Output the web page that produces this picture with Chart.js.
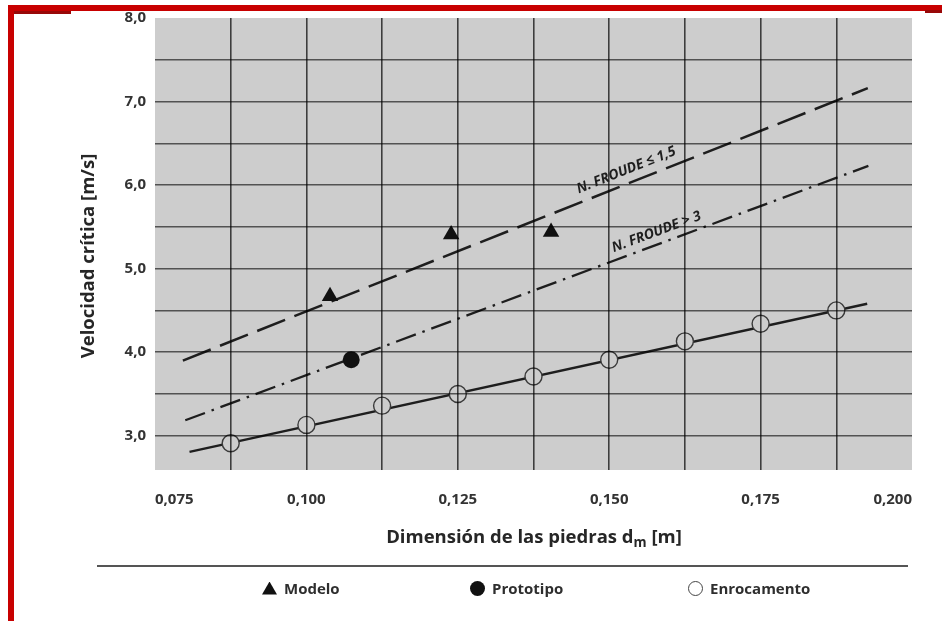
<!DOCTYPE html>
<html>
<head>
<meta charset="utf-8">
<title>Velocidad crítica vs dimensión de las piedras</title>
<script src="https://cdn.jsdelivr.net/npm/chart.js@4.4.1/dist/chart.umd.min.js"></script>
<style>
  html, body { margin: 0; padding: 0; background: #fff; }
  #page { position: relative; width: 942px; height: 621px; overflow: hidden;
          font-family: "Open Sans", "DejaVu Sans", sans-serif; color: #262626; }
  #chart { position: absolute; left: 0; top: 0; }
  .bar { position: absolute; background: #c80000; }
  .bar.dark { background: #980808; }
  .axis-title { position: absolute; font-weight: 700; font-size: 18.5px; line-height: 24px;
                text-align: center; white-space: nowrap; color: #262626; }
  .axis-title sub { font-size: 0.72em; vertical-align: -0.28em; line-height: 0; }
  #ytitle { left: -43px; top: 244px; width: 260px; transform: rotate(-90deg); }
  #xtitle { left: 334px; top: 524px; width: 400px; }
  #rule { position: absolute; left: 97px; top: 565px; width: 811px; height: 1.6px; background: #555; }
  .legend-item { position: absolute; top: 577px; height: 22px; display: flex; align-items: center;
                 font-weight: 700; font-size: 15px; color: #2e2e2e; white-space: nowrap; }
  .mk { display: inline-block; margin-right: 7px; }
  .mk.tri { width: 15px; height: 13px; background: #111; clip-path: polygon(50% 0, 100% 100%, 0 100%); }
  .mk.dot { width: 15px; height: 15px; border-radius: 50%; background: #111; }
  .mk.ring { width: 13px; height: 13px; border-radius: 50%; border: 1.4px solid #444; background: #fff; }
</style>
</head>
<body>
<div id="page">
  <canvas id="chart" width="942" height="621"></canvas>

  <div class="bar" style="left:8px; top:5px; width:934px; height:6px;"></div>
  <div class="bar" style="left:8px; top:5px; width:5.5px; height:616px;"></div>
  <div class="bar dark" style="left:13.5px; top:11px; width:57px; height:3px;"></div>
  <div class="bar dark" style="left:925px; top:10px; width:17px; height:3px;"></div>

  <div id="ytitle" class="axis-title">Velocidad crítica [m/s]</div>
  <div id="xtitle" class="axis-title">Dimensión de las piedras d<sub>m</sub> [m]</div>
  <div id="rule"></div>
  <div id="legend"></div>
</div>

<script>
// Diámetro medio de las piedras d_m [m] y velocidad crítica [m/s]
const modeloX      = [0.1039, 0.1239, 0.1404];
const modeloY      = [4.67, 5.41, 5.44];
const prototipoX   = [0.1074];
const prototipoY   = [3.91];
const enrocX       = [0.0875, 0.1000, 0.1125, 0.1250, 0.1375, 0.1500, 0.1625, 0.1750, 0.1875];
const enrocY       = [2.91, 3.13, 3.36, 3.50, 3.71, 3.91, 4.13, 4.34, 4.50];

// Rectas de ajuste (extremos)
const froude15X    = [0.0796, 0.1927];
const froude15Y    = [3.90, 7.16];
const froude3X     = [0.0800, 0.1928];
const froude3Y     = [3.185, 6.23];
const enrocLineX   = [0.0807, 0.1926];
const enrocLineY   = [2.807, 4.58];

// Ejes
const xMin = 0.075, xMax = 0.200, xGridStep = 0.0125;
const xTickValues  = [0.075, 0.100, 0.125, 0.150, 0.175, 0.200];
const xTickLabels  = ['0,075', '0,100', '0,125', '0,150', '0,175', '0,200'];
const yMin = 2.59, yMax = 8.0, yGridStep = 0.5;
const yTickValues  = [3, 4, 5, 6, 7, 8];
const yTickLabels  = ['3,0', '4,0', '5,0', '6,0', '7,0', '8,0'];

// Rótulos sobre las rectas
const lineLabelText = ['N. FROUDE ≤ 1,5', 'N. FROUDE > 3'];
const lineLabelAtX  = [0.1536, 0.1585];

const pts = (xs, ys) => xs.map((x, i) => ({ x, y: ys[i] }));
const near = (a, b) => Math.abs(a - b) < 1e-6;
const PLOT_BG = '#cdcdcd';

const plotBackground = {
  id: 'plotBackground',
  beforeDraw(chart) {
    const { ctx, chartArea: a } = chart;
    ctx.save();
    ctx.fillStyle = PLOT_BG;
    ctx.fillRect(a.left, a.top, a.right - a.left, a.bottom - a.top);
    ctx.restore();
  }
};

// Texto inclinado a lo largo de cada recta de Froude
const lineLabels = {
  id: 'lineLabels',
  afterDraw(chart, args, opts) {
    const { ctx } = chart;
    const xs = chart.scales.x, ys = chart.scales.y;
    opts.items.forEach(item => {
      const d = chart.data.datasets[item.dataset].data;
      const p0 = d[0], p1 = d[d.length - 1];
      const ang = Math.atan2(ys.getPixelForValue(p1.y) - ys.getPixelForValue(p0.y),
                             xs.getPixelForValue(p1.x) - xs.getPixelForValue(p0.x));
      const t = (item.x - p0.x) / (p1.x - p0.x);
      const yv = p0.y + t * (p1.y - p0.y);
      ctx.save();
      ctx.translate(xs.getPixelForValue(item.x), ys.getPixelForValue(yv));
      ctx.rotate(ang);
      ctx.font = 'italic 700 14px "Open Sans", "DejaVu Sans", sans-serif';
      ctx.fillStyle = '#1e1e1e';
      ctx.textAlign = 'center';
      ctx.textBaseline = 'middle';
      ctx.fillText(item.text, 0, -item.offset);
      ctx.restore();
    });
  }
};

const tickFont = { family: '"Open Sans", "DejaVu Sans", sans-serif', size: 15, weight: '700' };

new Chart(document.getElementById('chart'), {
  type: 'scatter',
  data: {
    datasets: [
      { label: 'Modelo', data: pts(modeloX, modeloY), order: 0,
        pointStyle: 'triangle', pointRadius: 9.5, backgroundColor: '#111', borderWidth: 0 },
      { label: 'Prototipo', data: pts(prototipoX, prototipoY), order: 0,
        pointStyle: 'circle', pointRadius: 8.5, backgroundColor: '#111', borderWidth: 0 },
      { label: 'Enrocamento', data: pts(enrocX, enrocY), order: 0,
        pointStyle: 'circle', pointRadius: 8.5, backgroundColor: PLOT_BG,
        borderColor: '#3a3a3a', borderWidth: 1.4 },
      { label: 'N. Froude ≤ 1,5', data: pts(froude15X, froude15Y), order: 1, showLine: true,
        pointRadius: 0, borderColor: '#1e1e1e', borderWidth: 2.5, borderDash: [30, 10] },
      { label: 'N. Froude > 3', data: pts(froude3X, froude3Y), order: 1, showLine: true,
        pointRadius: 0, borderColor: '#1e1e1e', borderWidth: 2.3, borderDash: [21, 7, 2.5, 7] },
      { label: 'Enrocamento (recta)', data: pts(enrocLineX, enrocLineY), order: 1, showLine: true,
        pointRadius: 0, borderColor: '#1e1e1e', borderWidth: 2.4 }
    ]
  },
  options: {
    responsive: false,
    animation: false,
    events: [],
    devicePixelRatio: 1,
    layout: { padding: { left: 0, right: 30, top: 17, bottom: 101 } },
    plugins: {
      legend: { display: false },
      tooltip: { enabled: false },
      lineLabels: {
        items: [
          { dataset: 3, text: lineLabelText[0], x: lineLabelAtX[0], offset: 13 },
          { dataset: 4, text: lineLabelText[1], x: lineLabelAtX[1], offset: 12 }
        ]
      }
    },
    scales: {
      x: {
        type: 'linear', min: xMin, max: xMax,
        afterFit: s => { s.height = 50; },
        border: { display: false },
        grid: {
          z: 1, drawTicks: false, lineWidth: 1.6,
          color: c => (near(c.tick.value, xMin) || near(c.tick.value, xMax)) ? 'rgba(0,0,0,0)' : 'rgba(0,0,0,0.7)'
        },
        ticks: {
          stepSize: xGridStep, autoSkip: false, maxRotation: 0, align: 'inner', padding: 21,
          color: '#333', font: tickFont,
          callback: v => { const i = xTickValues.findIndex(t => near(t, v)); return i >= 0 ? xTickLabels[i] : ''; }
        }
      },
      y: {
        type: 'linear', min: yMin, max: yMax,
        afterFit: s => { s.width = 155; },
        border: { display: false },
        grid: {
          z: 1, drawTicks: false, lineWidth: 1.6,
          color: c => (near(c.tick.value, yMin) || near(c.tick.value, yMax)) ? 'rgba(0,0,0,0)' : 'rgba(0,0,0,0.6)'
        },
        ticks: {
          stepSize: yGridStep, autoSkip: false, padding: 9,
          color: '#333', font: tickFont,
          callback: v => { const i = yTickValues.findIndex(t => near(t, v)); return i >= 0 ? yTickLabels[i] : ''; }
        }
      }
    }
  },
  plugins: [plotBackground, lineLabels]
});

// Leyenda
const legendItems = [
  { text: 'Modelo',      marker: 'tri',  left: 262 },
  { text: 'Prototipo',   marker: 'dot',  left: 470 },
  { text: 'Enrocamento', marker: 'ring', left: 688 }
];
const legendBox = document.getElementById('legend');
legendItems.forEach(it => {
  const el = document.createElement('div');
  el.className = 'legend-item';
  el.style.left = it.left + 'px';
  const mk = document.createElement('span');
  mk.className = 'mk ' + it.marker;
  el.appendChild(mk);
  el.appendChild(document.createTextNode(it.text));
  legendBox.appendChild(el);
});
</script>
</body>
</html>
